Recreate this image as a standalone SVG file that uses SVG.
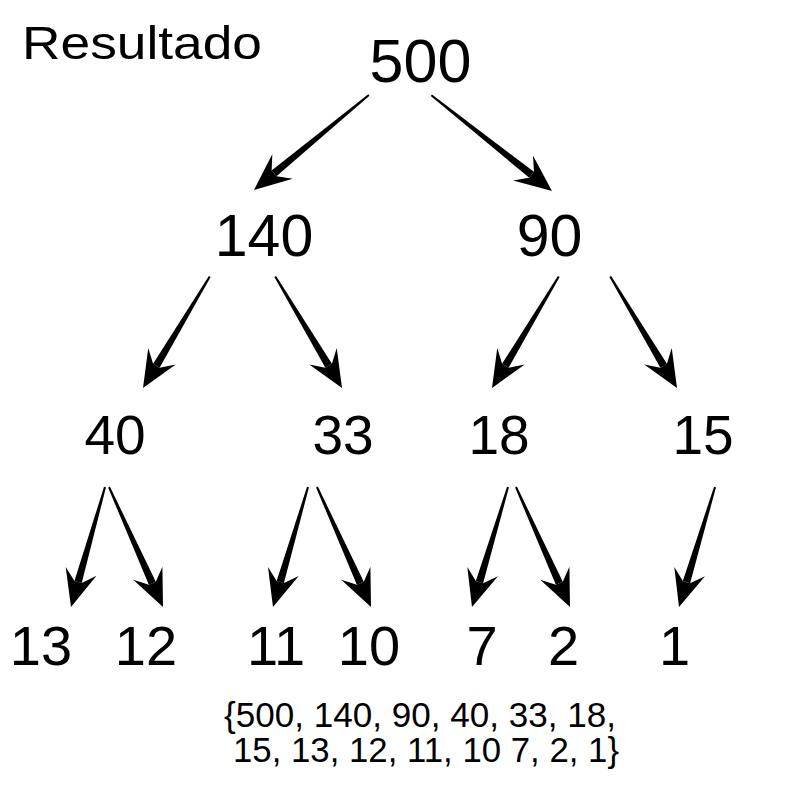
<svg xmlns="http://www.w3.org/2000/svg" xmlns:xlink="http://www.w3.org/1999/xlink" width="800" height="800" viewBox="0 0 800 800">
<style>
text{font-family:"Liberation Sans",Arial,sans-serif;fill:#000}
.n{text-anchor:middle}
.l1{font-size:61px}
.l2{font-size:59px}
.l3{font-size:55px}
.l4{font-size:56px}
.note{font-size:35px}
.arr{fill:#000}
</style>
<defs>
<path id="head" d="M0,0 L-37,-16 L-26,-3.8 L-26,3.8 L-37,16 Z"/>
</defs>
<rect width="800" height="800" fill="#fff"/>
<g id="title"><text x="22" y="59" font-size="47" textLength="240" lengthAdjust="spacingAndGlyphs">Resultado</text></g>
<g id="connectors" class="arr">
<g transform="translate(254,190) rotate(140.44)"><polygon points="-149,-1 -26,-3.8 -26,3.8 -149,1"/><use xlink:href="#head"/></g>
<g transform="translate(552,191) rotate(38.43)"><polygon points="-154,-1 -26,-3.8 -26,3.8 -154,1"/><use xlink:href="#head"/></g>
<g transform="translate(143,388) rotate(120.89)"><polygon points="-130,-1 -26,-3.8 -26,3.8 -130,1"/><use xlink:href="#head"/></g>
<g transform="translate(342,388) rotate(59.11)"><polygon points="-130,-1 -26,-3.8 -26,3.8 -130,1"/><use xlink:href="#head"/></g>
<g transform="translate(492,388) rotate(120.89)"><polygon points="-130,-1 -26,-3.8 -26,3.8 -130,1"/><use xlink:href="#head"/></g>
<g transform="translate(677,388) rotate(59.11)"><polygon points="-130,-1 -26,-3.8 -26,3.8 -130,1"/><use xlink:href="#head"/></g>
<g transform="translate(71,607) rotate(105.82)"><polygon points="-124.7,-1 -26,-3.8 -26,3.8 -124.7,1"/><use xlink:href="#head"/></g>
<g transform="translate(163,607) rotate(65.77)"><polygon points="-131.6,-1 -26,-3.8 -26,3.8 -131.6,1"/><use xlink:href="#head"/></g>
<g transform="translate(273,607) rotate(106.26)"><polygon points="-125,-1 -26,-3.8 -26,3.8 -125,1"/><use xlink:href="#head"/></g>
<g transform="translate(371,607) rotate(65.77)"><polygon points="-131.6,-1 -26,-3.8 -26,3.8 -131.6,1"/><use xlink:href="#head"/></g>
<g transform="translate(472,607) rotate(106.70)"><polygon points="-125.3,-1 -26,-3.8 -26,3.8 -125.3,1"/><use xlink:href="#head"/></g>
<g transform="translate(570,607) rotate(65.77)"><polygon points="-131.6,-1 -26,-3.8 -26,3.8 -131.6,1"/><use xlink:href="#head"/></g>
<g transform="translate(679,607) rotate(106.70)"><polygon points="-125.3,-1 -26,-3.8 -26,3.8 -125.3,1"/><use xlink:href="#head"/></g>
</g>
<g id="n500"><text class="n l1" x="420.5" y="82">500</text></g>
<g id="n140"><text class="n l2" x="264" y="256">140</text></g>
<g id="n90"><text class="n l2" x="549.5" y="256">90</text></g>
<g id="n40"><text class="n l3" x="115" y="454">40</text></g>
<g id="n33"><text class="n l3" x="343" y="454">33</text></g>
<g id="n18"><text class="n l3" x="499" y="454">18</text></g>
<g id="n15"><text class="n l3" x="703" y="454">15</text></g>
<g id="n13"><text class="n l4" x="41" y="665">13</text></g>
<g id="n12"><text class="n l4" x="146" y="665">12</text></g>
<g id="n11"><text class="n l4" x="276" y="665">11</text></g>
<g id="n10"><text class="n l4" x="369" y="665">10</text></g>
<g id="n7"><text class="n l4" x="482" y="665">7</text></g>
<g id="n2"><text class="n l4" x="563.5" y="665">2</text></g>
<g id="n1"><text class="n l4" x="674.5" y="665">1</text></g>
<g id="result">
<text class="note" x="224" y="727" textLength="392" lengthAdjust="spacingAndGlyphs">{500, 140, 90, 40, 33, 18,</text>
<text class="note" x="233" y="762" textLength="386" lengthAdjust="spacingAndGlyphs">15, 13, 12, 11, 10 7, 2, 1}</text>
</g>
</svg>
